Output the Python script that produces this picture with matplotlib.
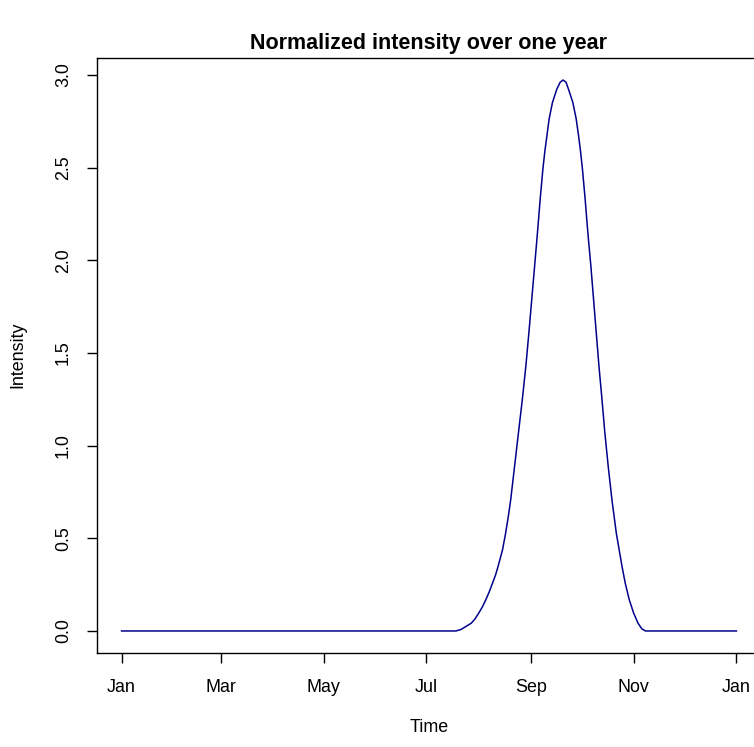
import matplotlib
matplotlib.use("Agg")
import matplotlib.pyplot as plt
import matplotlib.dates as mdates
import pandas as pd

plt.rcParams.update({"font.family": ["Liberation Sans", "DejaVu Sans"]})

# values: day offset from 1 Jan, normalized intensity
day_of_year = [0, 198.5, 201.5, 204.0, 207.6, 209.8, 212.0, 214.2, 216.2,
               218.3, 220.2, 222.0, 223.5, 226.2, 228.0, 229.6, 231.0, 233.3,
               235.6, 237.9, 240.0, 241.8, 243.5, 245.2, 246.9, 248.5, 250.1,
               251.3, 252.5, 253.8, 255.8, 258.4, 260.3, 262.0, 263.8, 265.3,
               267.9, 269.9, 271.3, 272.5, 273.6, 275.2, 276.8, 278.6, 280.2,
               281.8, 283.4, 285.2, 286.9, 288.9, 291.1, 293.7, 297.1, 299.0,
               301.4, 304.0, 306.6, 308.8, 311.0, 365]
intensity = [0.0, 0.0, 0.008, 0.022, 0.042, 0.065, 0.096, 0.130, 0.168,
             0.212, 0.258, 0.302, 0.348, 0.440, 0.528, 0.618, 0.708, 0.888,
             1.069, 1.249, 1.429, 1.609, 1.789, 1.969, 2.150, 2.330, 2.492,
             2.590, 2.672, 2.762, 2.852, 2.924, 2.960, 2.973, 2.962, 2.924,
             2.852, 2.762, 2.672, 2.585, 2.492, 2.330, 2.150, 1.969, 1.789,
             1.609, 1.429, 1.249, 1.069, 0.888, 0.708, 0.528, 0.348, 0.258,
             0.168, 0.096, 0.042, 0.012, 0.0, 0.0]
y_ticks = [0.0, 0.5, 1.0, 1.5, 2.0, 2.5, 3.0]

start = pd.Timestamp("2021-01-01")
end = pd.Timestamp("2022-01-01")
dates = start + pd.to_timedelta(day_of_year, unit="D")
month_ticks = pd.date_range(start, end, freq="2MS")

W, H = 754, 747
fig = plt.figure(figsize=(W / 100, H / 100), dpi=100)
# plot box in pixels: left 97, right 761 (runs past the edge), top 58, bottom 653
ax = fig.add_axes([97 / W, 1 - 653 / H, 664 / W, 595 / H])
ax.plot(dates, intensity, color="#00008B", lw=1.1)

span = (end - start) * 0.04
ax.set_xlim(start - span, end + span)
ymax = max(intensity)
ax.set_ylim(-0.04 * ymax, ymax * 1.04)

ax.set_xticks(month_ticks)
ax.xaxis.set_major_formatter(mdates.DateFormatter("%b"))
ax.set_yticks(y_ticks)
ax.set_yticklabels([f"{v:.1f}" for v in y_ticks], rotation=90, va="center")
ax.tick_params(length=7, width=1.0, labelsize=12.9, color="black")
ax.tick_params(axis="x", pad=12)
ax.tick_params(axis="y", pad=11)
for s in ax.spines.values():
    s.set_linewidth(1.0)

fig.text(0.5 * (97 + 761) / W, 1 - 44 / H, "Normalized intensity over one year",
         fontsize=15.5, fontweight="bold", ha="center", va="center")
fig.text(0.5 * (97 + 761) / W, 1 - 728 / H, "Time", fontsize=12.9,
         ha="center", va="center")
fig.text(18 / W, 1 - 355 / H, "Intensity", fontsize=12.9, rotation=90,
         ha="center", va="center")

fig.savefig("out.png", dpi=100)
